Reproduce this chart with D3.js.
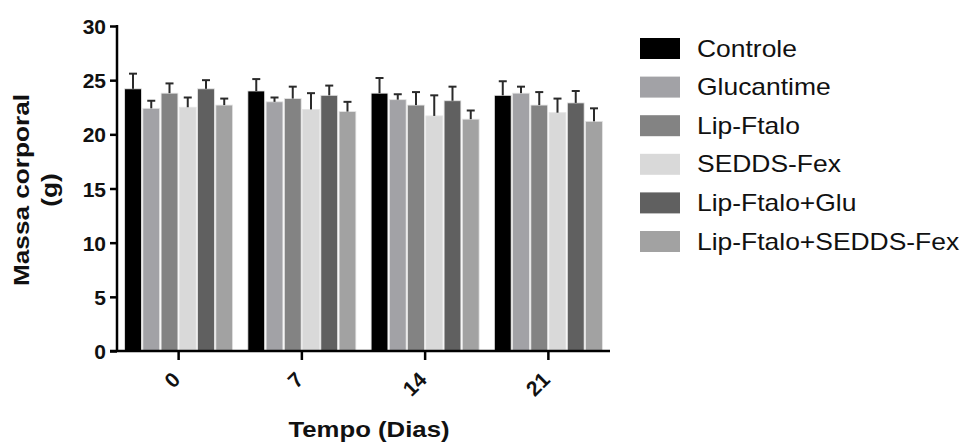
<!DOCTYPE html>
<html><head><meta charset="utf-8">
<script src="https://cdn.jsdelivr.net/npm/d3@7"></script>
<style>body{margin:0;background:#fff}svg{font-family:"Liberation Sans",Arial,sans-serif}</style>
</head><body><svg id="c" width="963" height="446"></svg>
<script>
const days = ["0","7","14","21"];
const seriesNames = ["Controle","Glucantime","Lip-Ftalo","SEDDS-Fex","Lip-Ftalo+Glu","Lip-Ftalo+SEDDS-Fex"];
const colors = ["#000000","#a2a2a6","#838383","#d9d9d9","#606060","#a2a2a2"];
const means = [
  [24.2,22.4,23.8,22.5,24.2,22.7],
  [24.0,23.0,23.3,22.3,23.6,22.1],
  [23.8,23.2,22.7,21.7,23.1,21.4],
  [23.6,23.8,22.7,22.0,22.9,21.2]
];
const errs = [
  [1.4,0.7,0.9,0.9,0.8,0.6],
  [1.1,0.4,1.1,1.5,0.9,0.9],
  [1.4,0.5,1.2,1.9,1.3,0.8],
  [1.3,0.6,1.2,1.3,1.1,1.2]
];
const yTicks = [0,5,10,15,20,25,30];
const FONT = "Liberation Sans, Arial, sans-serif";

const svg = d3.select("#c");
const x0 = d3.scaleBand().domain(days).range([117,610]).paddingInner(0.1).paddingOuter(0.05);
const x1 = d3.scaleBand().domain(seriesNames).range([0,x0.bandwidth()]).padding(0.08);
const y = d3.scaleLinear().domain([0,30]).range([351,26]);

const data = [];
days.forEach((d,i)=>seriesNames.forEach((s,j)=>data.push({d,s,j,v:means[i][j],e:errs[i][j]})));

const g = svg.append("g");
g.selectAll("rect.bar").data(data).join("rect").attr("class","bar")
  .attr("x",d=>x0(d.d)+x1(d.s)).attr("width",x1.bandwidth())
  .attr("y",d=>y(d.v)).attr("height",d=>y(0)-y(d.v))
  .attr("fill",d=>colors[d.j]).attr("stroke","#e4e4e4").attr("stroke-width",0.8);

const cx = d=>x0(d.d)+x1(d.s)+x1.bandwidth()/2;
const eb = g.selectAll("g.err").data(data).join("g").attr("class","err")
  .attr("stroke","#2a2a2a").attr("stroke-width",2);
eb.append("line").attr("x1",cx).attr("x2",cx)
  .attr("y1",d=>y(d.v)).attr("y2",d=>y(d.v+d.e));
eb.append("line").attr("x1",d=>cx(d)-4).attr("x2",d=>cx(d)+4)
  .attr("y1",d=>y(d.v+d.e)).attr("y2",d=>y(d.v+d.e));

// y axis
const ya = svg.append("g").attr("transform","translate(117,0)")
  .call(d3.axisLeft(y).tickValues(yTicks).tickSize(7).tickSizeOuter(0).tickPadding(4));
ya.select(".domain").attr("stroke","#000").attr("stroke-width",2.5).attr("d","M0,"+(y(30)-1)+"V"+(y(0)+1));
ya.selectAll(".tick line").attr("stroke","#000").attr("stroke-width",2.5);
ya.selectAll(".tick text").attr("font-size",21).attr("font-weight","bold").attr("fill","#111").attr("font-family",FONT).attr("dy","0.36em");

// x axis
const xa = svg.append("g").attr("transform",`translate(0,${y(0)})`)
  .call(d3.axisBottom(x0).tickSize(9).tickSizeOuter(0));
xa.select(".domain").attr("stroke","#000").attr("stroke-width",2.5).attr("d","M110,0H610");
xa.selectAll(".tick line").attr("stroke","#000").attr("stroke-width",2.5);
xa.selectAll(".tick text").attr("font-size",21).attr("font-weight","bold").attr("fill","#111")
  .attr("font-family",FONT).attr("x",0).attr("y",0)
  .attr("text-anchor","end").attr("dy","0").attr("transform","translate(3,30) rotate(-45)");

// titles
svg.append("text").attr("transform","translate(29,190) rotate(-90) scale(1.19,1)").attr("text-anchor","middle")
  .attr("font-size",22).attr("font-weight","bold").attr("fill","#111").text("Massa corporal");
svg.append("text").attr("transform","translate(57,190) rotate(-90) scale(1.19,1)").attr("text-anchor","middle")
  .attr("font-size",22).attr("font-weight","bold").attr("fill","#111").text("(g)");
svg.append("text").attr("transform","translate(369,437) scale(1.17,1)").attr("text-anchor","middle")
  .attr("font-size",22).attr("font-weight","bold").attr("fill","#111").text("Tempo (Dias)");

// legend
const leg = svg.append("g").selectAll("g").data(seriesNames).join("g")
  .attr("transform",(d,i)=>`translate(640,${38+i*38.6})`);
leg.append("rect").attr("width",40).attr("height",21).attr("fill",(d,i)=>colors[i]);
leg.append("text").attr("transform","translate(57,18.5) scale(1.15,1)").attr("font-size",23).attr("fill","#111").text(d=>d);
</script></body></html>
